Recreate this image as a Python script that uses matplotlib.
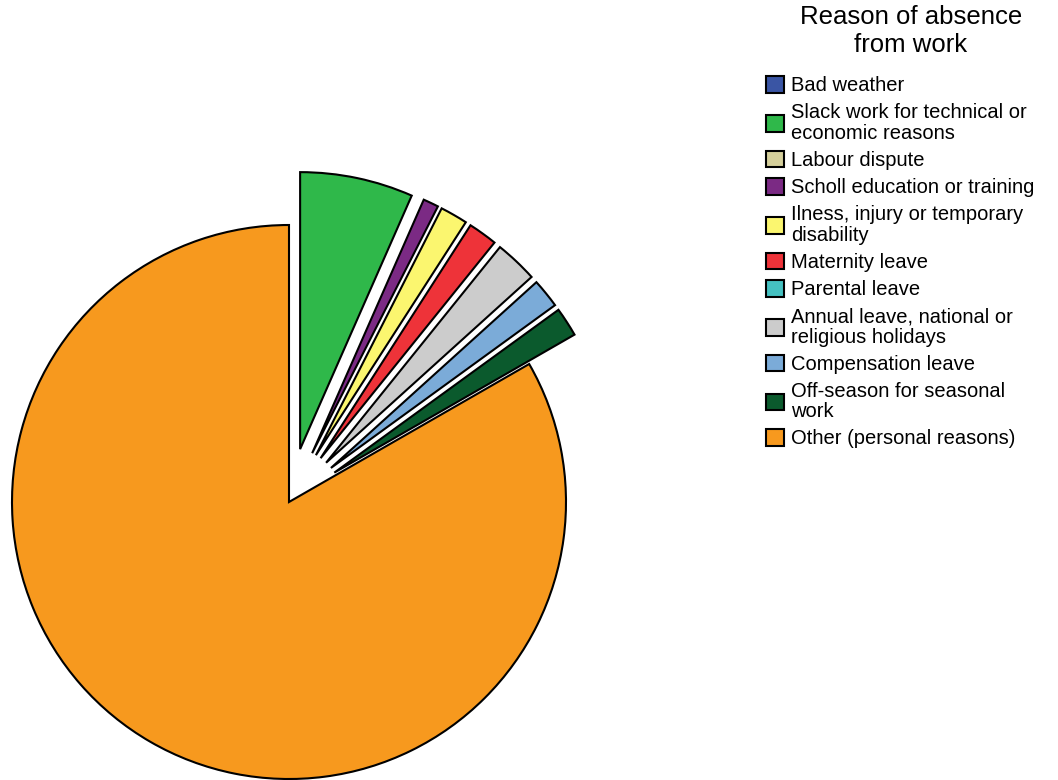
import matplotlib
matplotlib.use("Agg")
import matplotlib.pyplot as plt
from matplotlib.patches import Patch

plt.rcParams['font.family'] = ['Liberation Sans', 'DejaVu Sans']

categories = [
    "Bad weather",
    "Slack work for technical or\neconomic reasons",
    "Labour dispute",
    "Scholl education or training",
    "Ilness, injury or temporary\ndisability",
    "Maternity leave",
    "Parental leave",
    "Annual leave, national or\nreligious holidays",
    "Compensation leave",
    "Off-season for seasonal\nwork",
    "Other (personal reasons)",
]
values = [0.0, 6.6, 0.0, 0.9, 1.6, 1.7, 0.0, 2.5, 1.7, 1.7, 83.3]
colors = ["#3a55a4", "#2fb84a", "#d5cf9b", "#7b2a84", "#fbf66f", "#ee3339",
          "#45c1c1", "#cccccc", "#7babd8", "#0b5a2d", "#f7991e"]
legend_title = "Reason of absence\nfrom work"
explode = [0.0 if (v == 0 or c.startswith("Other")) else 0.195 for c, v in zip(categories, values)]

W, H = 1058, 780
fig = plt.figure(figsize=(W / 100, H / 100), dpi=100)

# pie axes: centre at pixel (289, 502 from top), radius 277 px
r_px = 277.0
cx, cy = 289.0, H - 502.0
ax_w, ax_h = 640.0, H
ax = fig.add_axes([0, 0, ax_w / W, ax_h / H])
wedges, _ = ax.pie(values, colors=colors, explode=explode, startangle=90,
                   counterclock=False,
                   wedgeprops=dict(edgecolor="black", linewidth=1.5, joinstyle="miter"))
for w, v in zip(wedges, values):
    if v == 0:
        w.set_linewidth(0)
        w.set_visible(False)
ax.set_aspect("auto")
ax.set_xlim(-cx / r_px, (ax_w - cx) / r_px)
ax.set_ylim(-cy / r_px, (ax_h - cy) / r_px)
ax.axis("off")

fig.text(911 / W, 1 - 31 / H, legend_title, ha="center", va="center",
         multialignment="center", fontsize=18.5, linespacing=1.2)

fs = 14.5
handles = [Patch(facecolor=c, edgecolor="black", linewidth=1.5) for c in colors]
leg = fig.legend(handles, categories, loc="upper left",
                 bbox_to_anchor=(766 / W, 1 - 76 / H),
                 frameon=False, fontsize=fs,
                 handlelength=0.9, handleheight=0.9, handletextpad=0.35,
                 labelspacing=0.4, borderpad=0.0, borderaxespad=0)
for t in leg.get_texts():
    t.set_linespacing(1.08)

fig.savefig("out.png", dpi=100)
